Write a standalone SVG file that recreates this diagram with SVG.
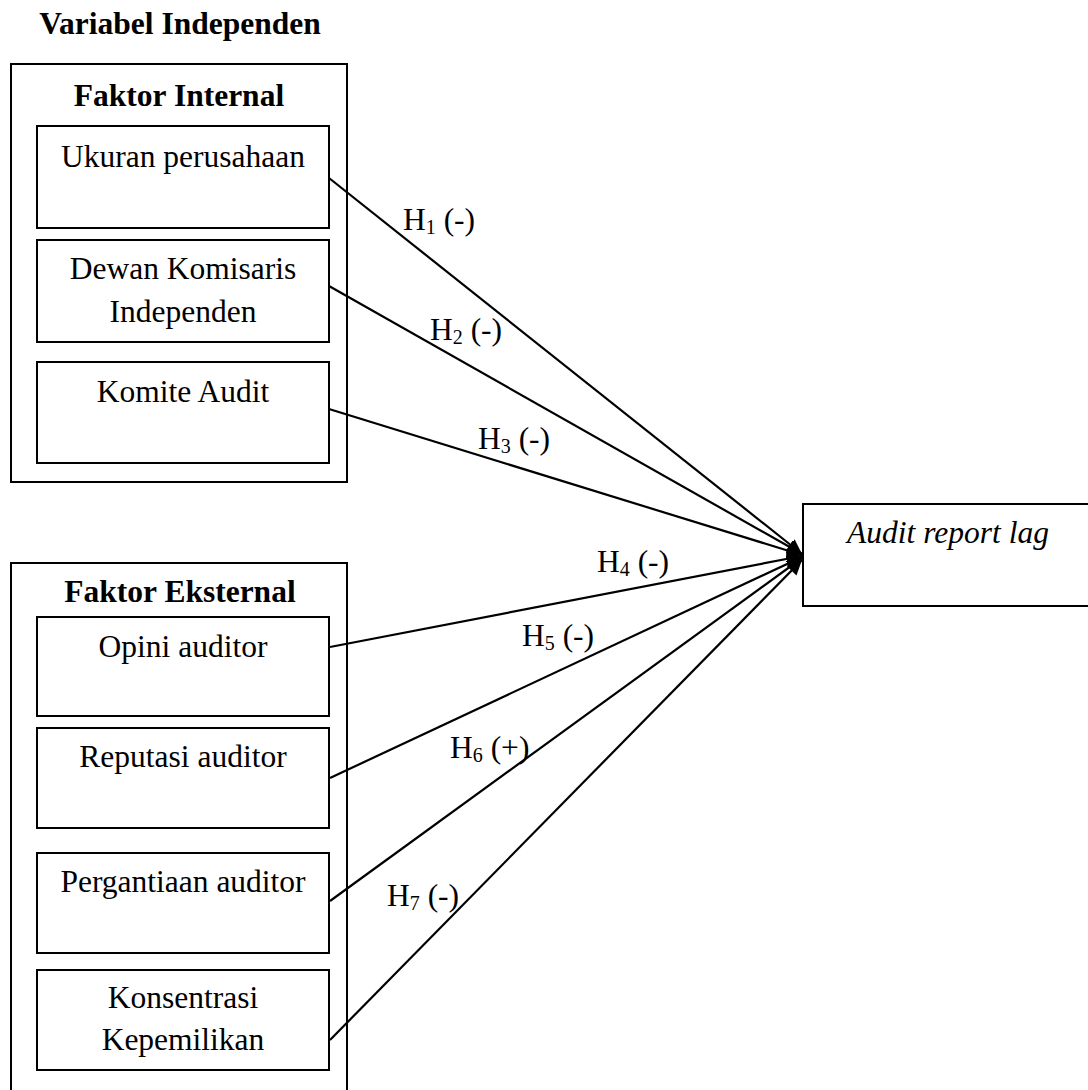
<svg xmlns="http://www.w3.org/2000/svg" width="1088" height="1090" viewBox="0 0 1088 1090" font-family="'Liberation Serif', serif">
<defs>
<style>
text{font-family:'Liberation Serif', serif}
.t{font-size:31.5px;fill:#000}
.b{font-weight:bold}
.i{font-style:italic}
.box{fill:#fff;stroke:#000;stroke-width:2}
.frame{fill:none;stroke:#000;stroke-width:2}
.c line{stroke:#000;stroke-width:2.2;marker-end:url(#ah)}
.sub{font-size:20px}
</style>
<marker id="ah" markerUnits="userSpaceOnUse" markerWidth="16" markerHeight="14" refX="15" refY="7" orient="auto">
<path d="M0,0 L15,7 L0,14 Z" fill="#000"/>
</marker>
</defs>
<rect width="1088" height="1090" fill="#fff"/>
<text class="t b" x="180" y="34" text-anchor="middle">Variabel Independen</text>

<g id="faktor-internal">
<rect class="frame" x="11" y="64" width="336" height="418"/>
<text class="t b" x="179" y="106" text-anchor="middle">Faktor Internal</text>
</g>
<g id="ukuran">
<rect class="box" x="37" y="126" width="292" height="102"/>
<text class="t" x="183" y="167" text-anchor="middle">Ukuran perusahaan</text>
</g>
<g id="dewan">
<rect class="box" x="37" y="240" width="292" height="102"/>
<text class="t" x="183" y="279" text-anchor="middle">Dewan Komisaris</text>
<text class="t" x="183" y="322" text-anchor="middle">Independen</text>
</g>
<g id="komite">
<rect class="box" x="37" y="362" width="292" height="101"/>
<text class="t" x="183" y="402" text-anchor="middle">Komite Audit</text>
</g>

<g id="faktor-eksternal">
<rect class="frame" x="11" y="563" width="336" height="540"/>
<text class="t b" x="180" y="602" text-anchor="middle">Faktor Eksternal</text>
</g>
<g id="opini">
<rect class="box" x="37" y="617" width="292" height="99"/>
<text class="t" x="183" y="657" text-anchor="middle">Opini auditor</text>
</g>
<g id="reputasi">
<rect class="box" x="37" y="728" width="292" height="100"/>
<text class="t" x="183" y="767" text-anchor="middle">Reputasi auditor</text>
</g>
<g id="pergantiaan">
<rect class="box" x="37" y="853" width="292" height="100"/>
<text class="t" x="183" y="892" text-anchor="middle">Pergantiaan auditor</text>
</g>
<g id="konsentrasi">
<rect class="box" x="37" y="970" width="292" height="100"/>
<text class="t" x="183" y="1008" text-anchor="middle">Konsentrasi</text>
<text class="t" x="183" y="1050" text-anchor="middle">Kepemilikan</text>
</g>

<g id="audit-report-lag">
<rect class="box" x="803" y="504" width="290" height="102"/>
<text class="t i" x="948" y="543" text-anchor="middle">Audit report lag</text>
</g>

<g id="connectors" class="c">
<line x1="329" y1="178" x2="802" y2="554"/>
<line x1="329" y1="286" x2="802" y2="554"/>
<line x1="329" y1="409" x2="802" y2="555"/>
<line x1="330" y1="647" x2="802" y2="556"/>
<line x1="330" y1="778" x2="802" y2="557"/>
<line x1="330" y1="901" x2="802" y2="558"/>
<line x1="330" y1="1040" x2="802" y2="560"/>
</g>

<g id="labels">
<text class="t" x="403" y="230">H<tspan class="sub" dy="4">1</tspan><tspan dy="-4"> (-)</tspan></text>
<text class="t" x="430" y="340">H<tspan class="sub" dy="4">2</tspan><tspan dy="-4"> (-)</tspan></text>
<text class="t" x="478" y="449">H<tspan class="sub" dy="4">3</tspan><tspan dy="-4"> (-)</tspan></text>
<text class="t" x="597" y="572">H<tspan class="sub" dy="4">4</tspan><tspan dy="-4"> (-)</tspan></text>
<text class="t" x="522" y="646">H<tspan class="sub" dy="4">5</tspan><tspan dy="-4"> (-)</tspan></text>
<text class="t" x="450" y="758">H<tspan class="sub" dy="4">6</tspan><tspan dy="-4"> (+)</tspan></text>
<text class="t" x="387" y="906">H<tspan class="sub" dy="4">7</tspan><tspan dy="-4"> (-)</tspan></text>
</g>
</svg>
